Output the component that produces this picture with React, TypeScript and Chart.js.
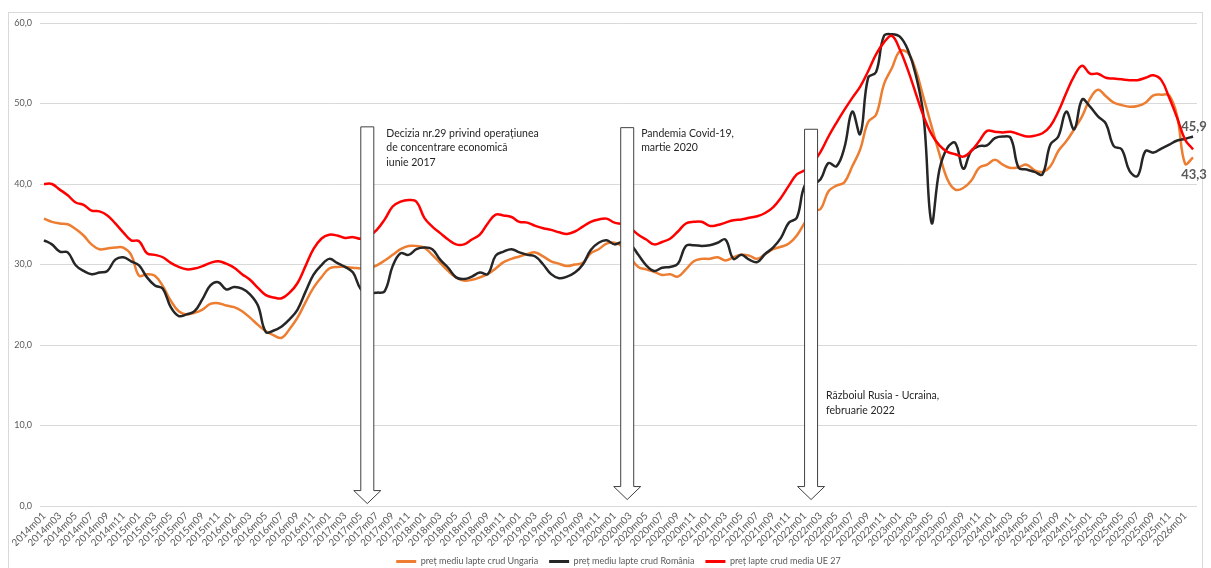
import React, { useEffect, useRef } from 'react';
import { Chart, registerables } from 'chart.js';

Chart.register(...registerables);

// Monthly categories 2014m01 .. 2026m02
const startYear = 2014;
const endYear = 2026;
const lastMonthOfEndYear = 2;
const categories: string[] = [];
for (let y = startYear; y <= endYear; y++) {
  for (let m = 1; m <= 12; m++) {
    if (y === endYear && m > lastMonthOfEndYear) break;
    categories.push(`${y}m${String(m).padStart(2, '0')}`);
  }
}

const seriesNames = [
  'preț mediu lapte crud Ungaria',
  'preț mediu lapte crud România',
  'preț lapte crud media UE 27',
];

const hungary = [
  35.7, 35.3, 35.1, 35.0, 34.4, 33.6, 32.5, 31.9, 32.0, 32.1, 32.1, 31.2, 28.6, 28.8, 28.6, 27.3, 25.5, 24.2, 23.8, 24.0, 24.4, 25.1, 25.2, 24.9, 24.7, 24.2, 23.4, 22.5, 21.7, 21.2,
  20.9, 22.0, 23.4, 25.3, 27.1, 28.4, 29.5, 29.7, 29.7, 29.6, 29.5, 29.5, 29.9, 30.5, 31.2, 31.9, 32.3, 32.3, 32.1, 31.2, 30.2, 29.2, 28.4, 28.0, 28.1, 28.4, 28.8, 29.5, 30.3,
  30.7, 31.0, 31.3, 31.5, 31.0, 30.4, 30.1, 29.8, 30.0, 30.2, 31.4, 31.9, 32.6, 32.7, 32.2, 30.8, 29.7, 29.4, 29.1, 28.7, 28.8, 28.5, 29.4, 30.4, 30.7, 30.7, 30.9, 30.5, 30.9, 31.2,
  31.1, 30.7, 31.3, 31.9, 32.2, 32.6, 33.6, 35.2, 36.7, 36.9, 39.1, 39.8, 40.2, 42.2, 44.3, 47.7, 48.6, 52.4, 54.4, 56.5, 56.3, 54.2, 50.7, 47.2, 43.7, 40.6, 39.3, 39.5, 40.4,
  42.0, 42.4, 43.0, 42.4, 42.0, 42.1, 42.4, 41.7, 41.5, 42.2, 44.1, 45.3, 46.8, 48.4, 50.6, 51.7, 50.9, 50.1, 49.8, 49.6, 49.7, 50.1, 51.0, 51.1, 51.0, 48.4, 42.5, 43.3,
];

const romania = [
  33.0, 32.5, 31.6, 31.5, 29.9, 29.2, 28.8, 29.0, 29.2, 30.6, 30.9, 30.4, 29.9, 28.4, 27.4, 27.0, 24.7, 23.6, 23.8, 24.2, 25.7, 27.4, 27.8, 26.9, 27.2, 27.0, 26.3, 24.9, 21.6, 21.8,
  22.3, 23.2, 24.4, 26.6, 28.7, 29.9, 30.7, 30.2, 29.7, 29.0, 26.9, 26.5, 26.5, 26.7, 29.8, 31.4, 31.2, 31.9, 32.1, 31.9, 30.6, 29.6, 28.4, 28.2, 28.5, 29.0, 28.8, 31.1, 31.6,
  31.9, 31.5, 31.2, 31.0, 30.0, 28.8, 28.3, 28.5, 29.0, 30.0, 31.8, 32.7, 33.0, 32.5, 32.8, 32.5, 31.2, 29.9, 29.2, 29.6, 29.7, 30.1, 32.3, 32.4, 32.3, 32.4, 32.7, 33.1, 30.7, 31.2,
  30.6, 30.3, 31.3, 32.1, 33.3, 35.2, 35.8, 39.8, 40.0, 40.6, 42.6, 42.2, 44.5, 49.0, 46.2, 53.2, 53.9, 58.4, 58.6, 58.3, 56.7, 53.6, 48.4, 35.2, 41.8, 44.5, 45.1, 41.9, 44.1,
  44.7, 44.8, 45.7, 45.9, 45.7, 42.0, 41.8, 41.5, 41.2, 44.9, 45.9, 49.0, 46.8, 50.5, 49.6, 48.4, 47.5, 44.7, 44.3, 41.6, 41.0, 44.1, 43.9, 44.4, 44.9, 45.4, 45.6, 45.9,
];

const eu27 = [
  40.0, 40.0, 39.3, 38.6, 37.7, 37.4, 36.7, 36.6, 36.1, 35.1, 34.0, 33.0, 32.9, 31.4, 31.2, 30.9, 30.2, 29.7, 29.4, 29.5, 29.8, 30.2, 30.4, 30.1, 29.6, 28.8, 28.1, 27.1, 26.2, 25.9,
  25.8, 26.5, 27.7, 29.8, 31.9, 33.2, 33.7, 33.6, 33.3, 33.4, 33.2, 33.5, 34.3, 35.6, 37.2, 37.8, 38.0, 37.8, 35.8, 34.7, 33.9, 33.1, 32.5, 32.5, 33.1, 33.7, 35.1, 36.2, 36.1,
  35.9, 35.3, 35.2, 34.8, 34.5, 34.3, 34.0, 33.8, 34.1, 34.7, 35.3, 35.6, 35.7, 35.2, 35.0, 34.5, 33.7, 33.1, 32.5, 32.8, 33.2, 34.1, 35.1, 35.3, 35.3, 34.8, 34.9, 35.2, 35.5, 35.6,
  35.8, 36.0, 36.4, 37.1, 38.3, 39.8, 41.2, 41.7, 42.6, 44.0, 45.9, 47.6, 49.2, 50.7, 52.1, 54.0, 56.1, 57.6, 58.4, 56.7, 54.2, 51.3, 48.4, 46.2, 44.8, 44.0, 43.7, 43.4, 44.1,
  45.3, 46.6, 46.5, 46.4, 46.5, 46.2, 45.9, 46.0, 46.3, 47.2, 49.0, 51.3, 53.4, 54.7, 53.7, 53.7, 53.2, 53.1, 53.0, 52.9, 52.9, 53.2, 53.5, 52.9, 50.7, 48.2, 45.5, 44.3,
];

const seriesColors = ['#ED7D31', '#262626', '#FF0000'];

const eventMonths = ['2017m06', '2020m03', '2022m02'];
const eventTexts = [
  ['Decizia nr.29 privind operațiunea', 'de concentrare economică', 'iunie 2017'],
  ['Pandemia Covid-19,', 'martie 2020'],
  ['Războiul Rusia - Ucraina,', 'februarie 2022'],
];
// styling of the event arrows (in axis units): top/tip of arrow, text anchor
const eventStyle = [
  { shift: -0.2, top: 47.1, tip: 0.3, textAt: 46.3, textDx: 19 },
  { shift: -0.4, top: 47.0, tip: 0.8, textAt: 46.3, textDx: 14 },
  { shift: -0.2, top: 46.8, tip: 0.8, textAt: 13.7, textDx: 15 },
];

const fmt = (v: number) => v.toFixed(1).replace('.', ',');

const framePlugin = {
  id: 'frame',
  beforeDraw(chart: any) {
    const { ctx } = chart;
    ctx.save();
    ctx.fillStyle = '#ffffff';
    ctx.fillRect(0, 0, chart.width, chart.height);
    ctx.strokeStyle = '#d9d9d9';
    ctx.lineWidth = 1;
    ctx.strokeRect(8.5, 12.5, 1194, 570);
    ctx.restore();
  },
};

const annotationPlugin = {
  id: 'events',
  afterDatasetsDraw(chart: any) {
    const { ctx } = chart;
    const x = chart.scales.x;
    const y = chart.scales.y;
    const step = x.getPixelForValue(1) - x.getPixelForValue(0);
    ctx.save();
    eventMonths.forEach((month, k) => {
      const st = eventStyle[k];
      const idx = categories.indexOf(month);
      const cx = x.getPixelForValue(idx) + st.shift * step;
      const top = y.getPixelForValue(st.top);
      const tip = y.getPixelForValue(st.tip);
      const sw = 6.5;
      const hw = 13.5;
      const hh = 13;
      ctx.beginPath();
      ctx.moveTo(cx - sw, top);
      ctx.lineTo(cx + sw, top);
      ctx.lineTo(cx + sw, tip - hh);
      ctx.lineTo(cx + hw, tip - hh);
      ctx.lineTo(cx, tip);
      ctx.lineTo(cx - hw, tip - hh);
      ctx.lineTo(cx - sw, tip - hh);
      ctx.closePath();
      ctx.fillStyle = '#ffffff';
      ctx.fill();
      ctx.strokeStyle = '#404040';
      ctx.lineWidth = 1;
      ctx.stroke();

      ctx.fillStyle = '#262626';
      ctx.font = '10.5px Lato';
      ctx.textAlign = 'left';
      ctx.textBaseline = 'middle';
      const ty = y.getPixelForValue(st.textAt);
      eventTexts[k].forEach((line, j) => {
        ctx.fillText(line, cx + st.textDx, ty + j * 14.5);
      });
    });

    // end-of-series value labels
    ctx.font = 'bold 13px Lato';
    ctx.fillStyle = '#595959';
    ctx.textAlign = 'center';
    ctx.textBaseline = 'middle';
    const metaRo = chart.getDatasetMeta(1);
    const ptRo = metaRo.data[metaRo.data.length - 1];
    ctx.fillText(fmt(romania[romania.length - 1]), ptRo.x + 1, ptRo.y - 10);
    const metaHu = chart.getDatasetMeta(0);
    const ptHu = metaHu.data[metaHu.data.length - 1];
    ctx.fillText(fmt(hungary[hungary.length - 1]), ptHu.x + 1, ptHu.y + 17);
    ctx.restore();
  },
};

export default function App() {
  const canvasRef = useRef<HTMLCanvasElement | null>(null);

  useEffect(() => {
    if (!canvasRef.current) return;
    const series = [hungary, romania, eu27];
    const chart = new Chart(canvasRef.current, {
      type: 'line',
      data: {
        labels: categories,
        datasets: series.map((data, i) => ({
          label: seriesNames[i],
          data,
          borderColor: seriesColors[i],
          backgroundColor: seriesColors[i],
          borderWidth: 2.5,
          pointRadius: 0,
          tension: 0.4,
          fill: false,
          order: 3 - i,
        })),
      },
      options: {
        responsive: false,
        animation: false,
        layout: { padding: { top: 23, right: 14, bottom: -8, left: 0 } },
        plugins: {
          tooltip: { enabled: false },
          legend: {
            position: 'bottom',
            fullSize: false,
            labels: {
              boxWidth: 20,
              boxHeight: 3,
              padding: 11,
              color: '#595959',
              font: { family: 'Lato', size: 9 },
              generateLabels: (c: any) => {
                const items = (Chart.defaults.plugins.legend.labels as any).generateLabels(c);
                return items
                  .sort((a: any, b: any) => a.datasetIndex - b.datasetIndex)
                  .map((it: any) => ({ ...it, lineWidth: 0 }));
              },
            },
          },
        },
        scales: {
          x: {
            type: 'category',
            offset: true,
            grid: { display: false, drawTicks: false },
            border: { display: false },
            ticks: {
              autoSkip: false,
              minRotation: 45,
              maxRotation: 45,
              padding: 4,
              color: '#595959',
              font: { family: 'Lato', size: 10 },
              callback: function (this: any, val: any, idx: number) {
                return idx % 2 === 0 ? this.getLabelForValue(val) : '';
              },
            },
            afterFit: (s: any) => {
              s.height = 40;
            },
          },
          y: {
            min: 0,
            max: 60,
            grid: { color: '#d9d9d9', lineWidth: 1, drawTicks: false },
            border: { display: false },
            ticks: {
              stepSize: 10,
              padding: 8,
              color: '#595959',
              font: { family: 'Lato', size: 9 },
              callback: (v: any) => fmt(Number(v)),
            },
            afterFit: (s: any) => {
              s.width = 40;
            },
          },
        },
      },
      plugins: [framePlugin, annotationPlugin],
    });
    return () => chart.destroy();
  }, []);

  return (
    <div style={{ position: 'fixed', left: 0, top: 0, width: 1211, height: 568, background: '#fff' }}>
      <canvas ref={canvasRef} width={1211} height={568} />
    </div>
  );
}
